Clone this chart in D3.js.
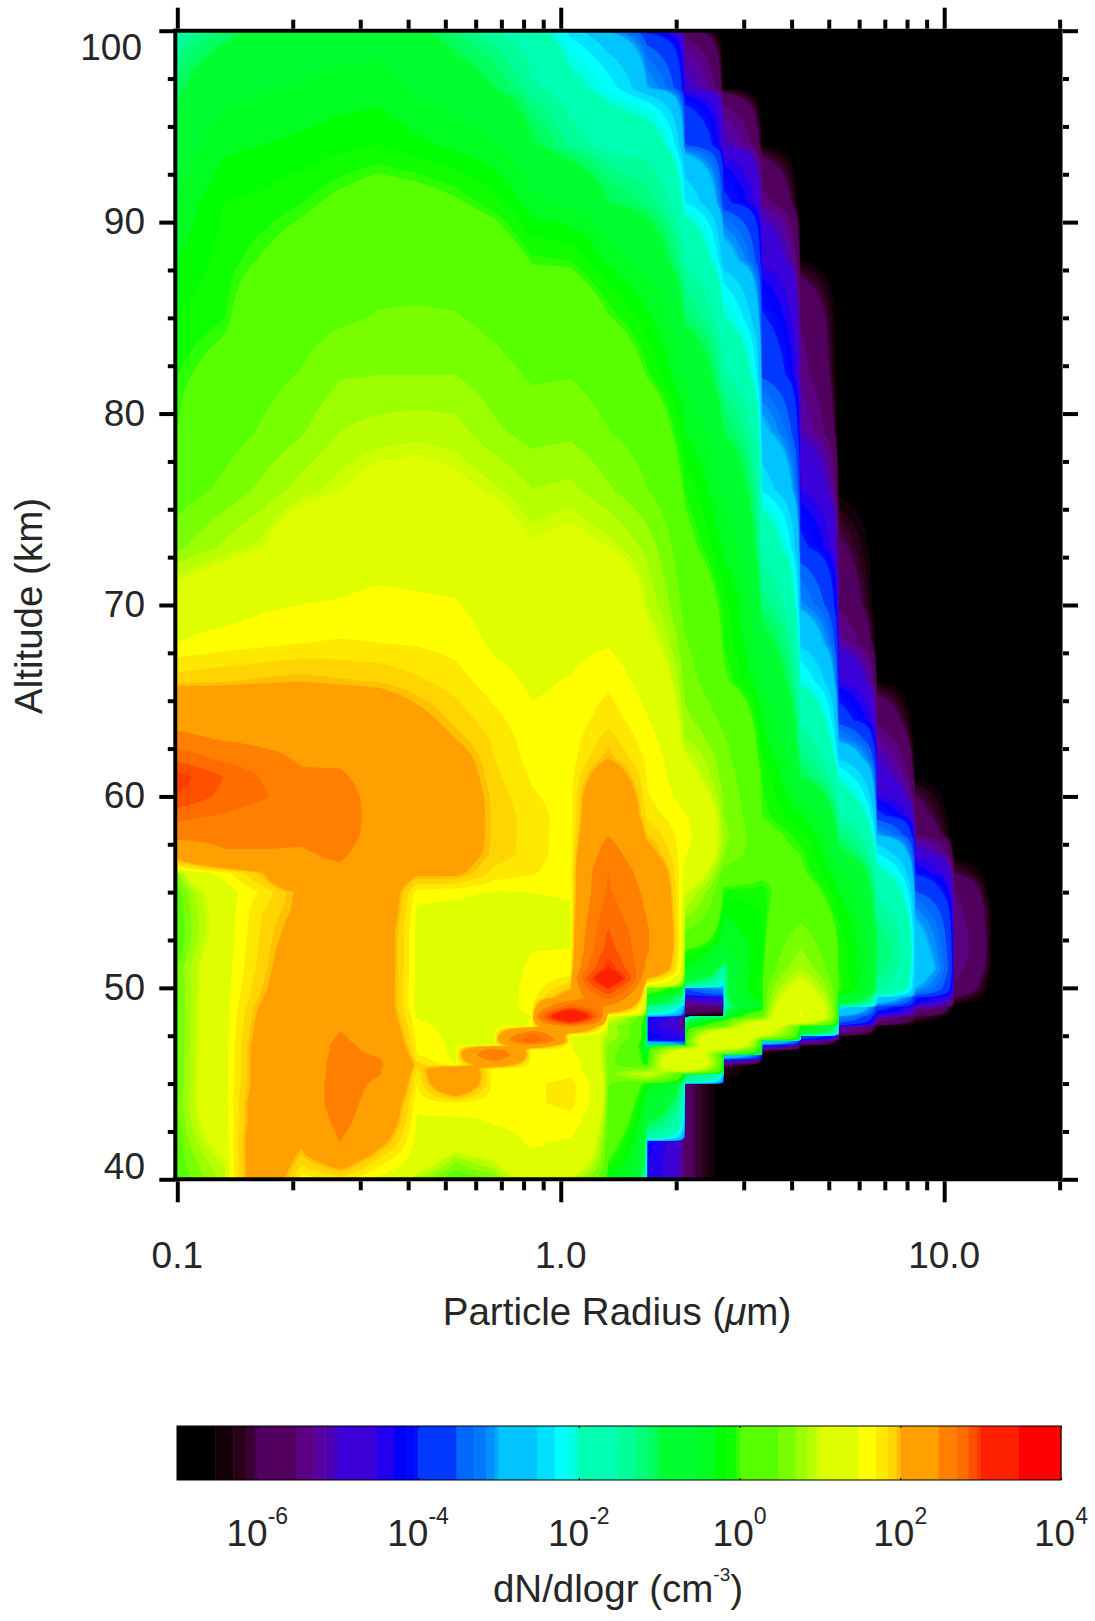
<!DOCTYPE html>
<html>
<head>
<meta charset="utf-8">
<script src="https://cdn.jsdelivr.net/npm/d3@7"></script>
<style>
	html, body { margin: 0; padding: 0; background: #fff; }
	text { font-family: "Liberation Sans", sans-serif; fill: #262626; }
</style>
</head>
<body>
<svg id="chart" width="1095" height="1621"></svg>
<script>
// particle radius (um) of the grid columns
const radii = [0.1, 0.133, 0.168, 0.211, 0.266, 0.335, 0.422, 0.531, 0.668, 0.841, 1.06, 1.33, 1.68, 2.11, 2.66, 3.35, 4.22, 5.31, 6.68, 8.41, 10.6, 13.3, 16.8, 20];

// altitude (km) of the grid rows, top to bottom
const altitudes = [100, 97, 94, 91, 88, 85, 82, 79, 76, 73, 70, 68, 66, 64, 63, 62, 61, 60, 59, 58, 57, 56, 55, 54, 53, 52, 51, 50.5, 50, 49.5, 49, 48.5, 48, 47.5, 47.25, 47, 46.75, 46.5, 46.25, 46, 45.75, 45.5, 45, 44, 43, 42, 41, 40];

// log10(dN/dlogr), one row per altitude, one value per radius. -9 means nothing there
const logN = [
	[-1.6,-1.15,-.9,-.8,-.75,-.7,-.95,-1.2,-1.5,-1.9,-2.4,-3.05,-4.2,-5.8,-9,-9,-9,-9,-9,-9,-9,-9,-9,-9],
	[-1.1,-.7,-.55,-.5,-.42,-.4,-.6,-.8,-1,-1.45,-1.9,-2.2,-3,-4.9,-6.7,-9,-9,-9,-9,-9,-9,-9,-9,-9],
	[-.8,-.35,-.3,-.25,-.2,-.15,-.25,-.35,-.5,-.95,-1.35,-1.7,-1.75,-3.5,-5,-6.5,-9,-9,-9,-9,-9,-9,-9,-9],
	[-.5,-.15,-.12,-.05,.05,.12,.1,.03,-.1,-.45,-.6,-1,-1.2,-2.3,-3.9,-5.4,-9,-9,-9,-9,-9,-9,-9,-9],
	[-.3,-.1,.02,.12,.2,.3,.3,.25,.2,-.02,-.05,-.35,-.7,-1.6,-2.8,-4.6,-6.6,-9,-9,-9,-9,-9,-9,-9],
	[-.15,-.05,.2,.3,.42,.5,.52,.5,.38,.22,.25,.02,-.25,-1.1,-2,-3.95,-5.55,-9,-9,-9,-9,-9,-9,-9],
	[-.05,.1,.35,.5,.68,.7,.7,.7,.58,.44,.46,.3,-.02,-.6,-1.5,-3.6,-5.4,-9,-9,-9,-9,-9,-9,-9],
	[0,.3,.52,.68,.85,.9,.92,.9,.74,.62,.66,.49,.3,-.3,-1,-2.9,-5.1,-9,-9,-9,-9,-9,-9,-9],
	[.25,.55,.75,.9,1,1.08,1.1,1.05,.98,.85,.88,.73,.48,-.05,-.6,-2.35,-4.5,-6.8,-9,-9,-9,-9,-9,-9],
	[.65,.88,1,1.2,1.25,1.3,1.3,1.25,1.15,1.02,1.08,1,.8,.1,-.35,-1.7,-3.9,-5.9,-9,-9,-9,-9,-9,-9],
	[1.15,1.25,1.42,1.48,1.5,1.55,1.52,1.5,1.32,1.2,1.22,1.35,.95,.35,-.1,-1.2,-3.1,-5.6,-9,-9,-9,-9,-9,-9],
	[1.48,1.6,1.65,1.7,1.72,1.7,1.68,1.62,1.42,1.35,1.36,1.45,1.1,.5,-.05,-.85,-2.6,-5.2,-9,-9,-9,-9,-9,-9],
	[1.92,1.95,1.98,2,1.97,1.95,1.87,1.78,1.58,1.42,1.5,1.65,1.3,.6,.05,-.6,-2.1,-4.5,-6.6,-9,-9,-9,-9,-9],
	[2.35,2.3,2.3,2.3,2.25,2.2,2.07,1.92,1.76,1.53,1.55,1.8,1.5,.75,.4,-.3,-1.6,-3.8,-5.6,-9,-9,-9,-9,-9],
	[2.55,2.45,2.4,2.4,2.35,2.25,2.15,2,1.82,1.58,1.58,1.9,1.58,.85,.5,-.25,-1.4,-3.1,-5.3,-9,-9,-9,-9,-9],
	[2.8,2.65,2.55,2.44,2.42,2.3,2.2,2.1,1.85,1.62,1.6,2,1.65,1.02,.55,-.15,-1.2,-2.6,-5,-8,-9,-9,-9,-9],
	[3,2.84,2.68,2.52,2.52,2.3,2.2,2.15,1.88,1.68,1.6,2.2,1.68,1.12,.6,-.05,-1,-2.1,-4.8,-6.8,-9,-9,-9,-9],
	[2.95,2.8,2.72,2.55,2.6,2.32,2.2,2.18,1.92,1.72,1.6,2.35,1.72,1.3,.65,-.02,-.6,-1.8,-4.5,-6,-9,-9,-9,-9],
	[2.75,2.68,2.6,2.55,2.62,2.32,2.2,2.18,1.93,1.78,1.58,2.4,1.8,1.5,.7,0,-.3,-1.5,-3.9,-5.8,-9,-9,-9,-9],
	[2.55,2.55,2.55,2.52,2.6,2.32,2.2,2.18,1.93,1.78,1.57,2.47,1.95,1.55,.75,.1,-.1,-1.2,-3.05,-5.55,-9,-9,-9,-9],
	[2.15,2.45,2.45,2.45,2.52,2.28,2.2,2.15,1.92,1.78,1.56,2.6,2.1,1.5,.7,.1,0,-.9,-2.3,-4.8,-7,-9,-9,-9],
	[.6,1.6,2,2.4,2.42,2.25,2.05,2.05,1.8,1.72,1.55,2.7,2.3,1.3,.2,.05,.05,-.5,-1.9,-4.1,-6,-9,-9,-9],
	[.3,1.2,1.75,2.05,2.3,2.25,1.6,1.55,1.45,1.48,1.5,2.72,2.4,1,-.1,-.1,.2,-.3,-1.6,-3.5,-5.5,-9,-9,-9],
	[.2,1.15,1.85,2.05,2.25,2.25,1.4,1.35,1.35,1.4,1.45,2.78,2.45,.8,-.3,-.15,.35,-.2,-1.4,-3.1,-5.4,-6.6,-9,-9],
	[-.05,1.15,1.88,2.1,2.3,2.2,1.35,1.3,1.3,1.35,1.45,2.85,2.5,.5,-.4,-.2,.55,-.1,-1.2,-2.9,-5.35,-6.55,-9,-9],
	[.1,1.2,1.9,2.15,2.3,2.2,1.35,1.3,1.28,1.47,1.48,2.9,2.5,0,-.6,-.2,.7,-.05,-1.1,-2.8,-5.3,-6.55,-9,-9],
	[.5,1.25,1.92,2.2,2.3,2.2,1.35,1.3,1.28,1.52,1.55,3.02,2.4,-.35,-1.7,-.15,.85,-.05,-1.2,-2.7,-5.4,-6.6,-9,-9],
	[.45,1.25,1.95,2.2,2.32,2.2,1.32,1.3,1.28,1.53,1.75,3.2,2,-.8,-2,-.12,1,-.02,-1.3,-2.85,-5.5,-7,-9,-9],
	[.4,1.25,1.97,2.2,2.35,2.2,1.3,1.3,1.28,1.55,1.95,3,.3,-3.5,-3,-.1,1.15,0,-1.4,-3,-5.6,-7.5,-9,-9],
	[.4,1.27,2,2.2,2.38,2.2,1.3,1.3,1.28,1.55,2.15,2.75,-.5,-5,-4.6,-.2,1.3,-.5,-2.6,-4,-6,-9,-9,-9],
	[.4,1.27,2.05,2.2,2.4,2.2,1.3,1.3,1.28,1.55,2.8,2.4,-1.5,-5.6,-5.8,-.5,1.45,-2.4,-3.8,-5.2,-7,-9,-9,-9],
	[.4,1.27,2.08,2.2,2.42,2.22,1.45,1.3,1.3,1.48,3.3,1.1,-4.2,-6.5,-7,.3,1.5,-3.1,-5.2,-6,-9,-9,-9,-9],
	[.4,1.27,2.1,2.2,2.45,2.25,1.55,1.35,1.32,1.5,2.5,.8,-4.4,-6,.3,1.3,-.2,-5,-6.4,-9,-9,-9,-9,-9],
	[.4,1.28,2.12,2.2,2.5,2.3,1.6,1.38,1.36,2.75,1.3,.85,-4.2,-4.6,1.35,1,-3.5,-6.2,-9,-9,-9,-9,-9,-9],
	[.4,1.28,2.13,2.2,2.52,2.32,1.62,1.39,1.38,2.85,1.45,.75,-4.3,-4.4,1.5,-2.4,-5,-9,-9,-9,-9,-9,-9,-9],
	[.4,1.28,2.15,2.2,2.55,2.35,1.65,1.4,1.4,2.3,1.5,.6,-2.5,-3,1.4,-4.5,-6.2,-9,-9,-9,-9,-9,-9,-9],
	[.4,1.28,2.15,2.2,2.55,2.4,1.68,1.4,2.6,1.5,1.5,.6,-.6,1.1,.9,-6,-9,-9,-9,-9,-9,-9,-9,-9],
	[.4,1.3,2.15,2.2,2.56,2.45,1.7,1.4,2.72,1.55,1.55,.55,-.4,1.3,-2.5,-6.8,-9,-9,-9,-9,-9,-9,-9,-9],
	[.4,1.3,2.15,2.2,2.57,2.5,1.8,1.42,2.55,1.55,1.58,.55,-.3,1.4,-4.6,-9,-9,-9,-9,-9,-9,-9,-9,-9],
	[.4,1.3,2.15,2.2,2.58,2.52,1.9,1.45,2.25,1.55,1.6,.55,-.2,1.4,-5.9,-9,-9,-9,-9,-9,-9,-9,-9,-9],
	[.4,1.3,2.15,2.2,2.58,2.5,1.85,2.3,1.6,1.55,1.6,.58,.6,1.2,-6.2,-9,-9,-9,-9,-9,-9,-9,-9,-9],
	[.4,1.3,2.15,2.2,2.58,2.5,1.75,2.35,1.58,1.55,1.65,.6,1,-1,-6.3,-9,-9,-9,-9,-9,-9,-9,-9,-9],
	[.4,1.3,2.15,2.2,2.6,2.42,1.7,2.3,1.6,1.66,1.76,.5,-.2,-5.9,-9,-9,-9,-9,-9,-9,-9,-9,-9,-9],
	[.5,1.3,2.2,2.2,2.6,2.3,1.55,1.7,1.55,1.66,1.76,.4,-.6,-5.9,-9,-9,-9,-9,-9,-9,-9,-9,-9,-9],
	[.4,1.25,2.2,2.15,2.55,2.25,1.42,1.35,1.5,1.55,1.6,.3,-1,-5.9,-9,-9,-9,-9,-9,-9,-9,-9,-9,-9],
	[.3,1.15,2.25,2.05,2.48,2.1,1.35,1.2,1.3,1.52,1.45,.15,-4.2,-5.9,-9,-9,-9,-9,-9,-9,-9,-9,-9,-9],
	[.2,1,2.25,1.9,2.15,1.8,1.2,.75,1,1.4,1.3,0,-4.3,-5.9,-9,-9,-9,-9,-9,-9,-9,-9,-9,-9],
	[0,.9,2.25,1.6,1.75,1.35,.8,-.1,.5,1.1,.9,-.3,-4.3,-5.9,-9,-9,-9,-9,-9,-9,-9,-9,-9,-9]
];

// contour levels are mantissa * 10^decade
const levelDecades = [-7, -6, -5, -4, -3, -2, -1, 0, 1, 2, 3];
const levelMantissas = [1, 3, 5, 7, 9];

// one colour per level
const bandColors = [
	"#000000", "#140008", "#280018", "#38002c", "#45004c",
	"#520060", "#5a0080", "#5800a0", "#4c00b0", "#4800c0",
	"#3c00d8", "#2400f0", "#0000ff", "#0008ff", "#0010ff",
	"#0038ff", "#0068ff", "#0078ff", "#0090ff", "#00a8ff",
	"#00c4ff", "#00e0ff", "#00ffff", "#00ffe8", "#00ffd0",
	"#00ffb0", "#00ff98", "#00ff7c", "#00ff60", "#00ff50",
	"#00ff30", "#00ff20", "#00ff00", "#10ff00", "#2cff00",
	"#58ff00", "#78ff00", "#9cff00", "#b8ff00", "#ccff00",
	"#dfff00", "#ffff00", "#ffe800", "#ffd400", "#ffc000",
	"#ffa000", "#ff8000", "#ff6c00", "#ff5000", "#ff3c00",
	"#ff2000", "#ff0000", "#ff0000", "#ff0000", "#ff0000"
];

const xMajorTicks = [0.1, 1, 10];
const xMinorTicks = [0.2, 0.3, 0.4, 0.5, 0.6, 0.7, 0.8, 0.9, 2, 3, 4, 5, 6, 7, 8, 9, 20];
const xTickLabels = ["0.1", "1.0", "10.0"];
const yMajorTicks = [40, 50, 60, 70, 80, 90, 100];
const yMinorTicks = [42.5, 45, 47.5, 52.5, 55, 57.5, 62.5, 65, 67.5, 72.5, 75, 77.5, 82.5, 85, 87.5, 92.5, 95, 97.5];
const colorBarTicks = [1e-6, 1e-4, 1e-2, 1, 1e2, 1e4];
const colorBarExponents = ["-6", "-4", "-2", "0", "2", "4"];

const levels = levelDecades.flatMap(d => levelMantissas.map(m => m * Math.pow(10, d)));

const plot = { left: 177.3, right: 1062, top: 30.7, bottom: 1179.3 };
const bar = { left: 177, right: 1061, top: 1426, bottom: 1480 };

const svg = d3.select("#chart");

const xScale = d3.scaleLog()
	.domain([0.1, 10])
	.range([plot.left, 944.2]);

const yScale = d3.scaleLinear()
	.domain([40, 100])
	.range([plot.bottom, plot.top]);

const colorBarScale = d3.scaleLog()
	.domain([1e-7, 1e4])
	.range([bar.left, bar.right]);

// The contours follow straight-line changes of dN/dlogr itself (not its log) between
// grid points, so the bands pile up at the low side of each step. Each grid cell is
// split up so that those curved edges come out smooth.
const splitX = 8;
const splitY = 8;
const nCols = radii.length;
const nRows = altitudes.length;
const gridW = (nCols - 1) * splitX + 1;
const gridH = (nRows - 1) * splitY + 1;
const grid = new Float64Array(gridW * gridH);

for (let j = 0; j < gridH; j++) {
	const r0 = Math.min(Math.floor(j / splitY), nRows - 2);
	const tr = j / splitY - r0;
	for (let i = 0; i < gridW; i++) {
		const c0 = Math.min(Math.floor(i / splitX), nCols - 2);
		const tc = i / splitX - c0;
		const top = Math.pow(10, logN[r0][c0]) * (1 - tc) + Math.pow(10, logN[r0][c0 + 1]) * tc;
		const bottom = Math.pow(10, logN[r0 + 1][c0]) * (1 - tc) + Math.pow(10, logN[r0 + 1][c0 + 1]) * tc;
		grid[j * gridW + i] = top * (1 - tr) + bottom * tr;
	}
}

const colToPx = d3.scaleLinear()
	.domain(d3.range(nCols))
	.range(radii.map(d => xScale(d)))
	.clamp(true);

const rowToPx = d3.scaleLinear()
	.domain(d3.range(nRows))
	.range(altitudes.map(d => yScale(d)))
	.clamp(true);

const gridPath = d3.geoPath(d3.geoTransform({
	point: function(x, y) {
		this.stream.point(colToPx((x - 0.5) / splitX), rowToPx((y - 0.5) / splitY));
	}
}));

const contours = d3.contours()
	.size([gridW, gridH])
	.smooth(true)
	.thresholds(levels.slice(1));

svg.append("clipPath")
	.attr("id", "plot-clip")
	.append("rect")
	.attr("x", plot.left)
	.attr("y", plot.top)
	.attr("width", plot.right - plot.left)
	.attr("height", plot.bottom - plot.top);

const field = svg.append("g").attr("clip-path", "url(#plot-clip)");

field.append("rect")
	.attr("x", plot.left)
	.attr("y", plot.top)
	.attr("width", plot.right - plot.left)
	.attr("height", plot.bottom - plot.top)
	.attr("fill", bandColors[0]);

field.selectAll("path")
	.data(contours(grid))
	.join("path")
	.attr("d", gridPath)
	.attr("fill", (d, i) => bandColors[i + 1]);

// axes: thick black ticks on all four sides
function drawAxis(axis, tx, ty, values, size, width) {
	const g = svg.append("g")
		.attr("transform", `translate(${tx},${ty})`)
		.call(axis.tickValues(values).tickSize(size).tickSizeOuter(0).tickFormat(""));
	g.selectAll(".tick line").attr("stroke", "#000").attr("stroke-width", width);
	g.select(".domain").remove();
	return g;
}

drawAxis(d3.axisLeft(yScale), plot.left - 2, 0, yMinorTicks, 7.5, 4);
drawAxis(d3.axisLeft(yScale), plot.left - 2, 0, yMajorTicks, 16, 4);
drawAxis(d3.axisRight(yScale), plot.right, 0, yMinorTicks, 7, 4);
drawAxis(d3.axisRight(yScale), plot.right, 0, yMajorTicks, 16, 4);
drawAxis(d3.axisTop(xScale), 0, plot.top - 2, xMinorTicks, 9, 4);
drawAxis(d3.axisTop(xScale), 0, plot.top - 2, xMajorTicks, 21, 4);
drawAxis(d3.axisBottom(xScale), 0, plot.bottom + 2, xMinorTicks, 9, 4);
drawAxis(d3.axisBottom(xScale), 0, plot.bottom + 2, xMajorTicks, 21, 4);

// frame lines
svg.append("line").attr("x1", plot.left - 2).attr("x2", plot.left - 2).attr("y1", plot.top - 2).attr("y2", plot.bottom + 2)
	.attr("stroke", "#000").attr("stroke-width", 4);
svg.append("line").attr("x1", plot.left - 4).attr("x2", plot.right).attr("y1", plot.top).attr("y2", plot.top)
	.attr("stroke", "#000").attr("stroke-width", 4);
svg.append("line").attr("x1", plot.left - 4).attr("x2", plot.right).attr("y1", plot.bottom).attr("y2", plot.bottom)
	.attr("stroke", "#000").attr("stroke-width", 4);
svg.append("line").attr("x1", plot.right + 0.5).attr("x2", plot.right + 0.5).attr("y1", plot.top).attr("y2", plot.bottom)
	.attr("stroke", "#777").attr("stroke-width", 1);

// tick labels
const labelSize = 37;
const titleSize = 38.5;

svg.selectAll(".y-label")
	.data(yMajorTicks)
	.join("text")
	.attr("class", "y-label")
	.attr("x", d => d === 100 ? 142 : 145)
	.attr("y", d => yScale(d) + (d === 100 ? 29 : d === 40 ? 0 : 12))
	.attr("text-anchor", "end")
	.style("font-size", labelSize + "px")
	.text(d => d);

svg.selectAll(".x-label")
	.data(xMajorTicks)
	.join("text")
	.attr("class", "x-label")
	.attr("x", d => xScale(d))
	.attr("y", 1268)
	.attr("text-anchor", "middle")
	.style("font-size", labelSize + "px")
	.text((d, i) => xTickLabels[i]);

// axis titles
const xTitle = svg.append("text")
	.attr("x", 617)
	.attr("y", 1325)
	.attr("text-anchor", "middle")
	.style("font-size", titleSize + "px");
xTitle.append("tspan").text("Particle Radius (");
xTitle.append("tspan").style("font-style", "italic").text("\u03bc");
xTitle.append("tspan").text("m)");

svg.append("text")
	.attr("transform", "translate(42,606) rotate(-90)")
	.attr("text-anchor", "middle")
	.style("font-size", titleSize + "px")
	.text("Altitude (km)");

// colour bar
const barEdges = levels.concat([1e4 * 1.0001]);
svg.selectAll(".bar-band")
	.data(levels.filter(d => d < 1e4))
	.join("rect")
	.attr("class", "bar-band")
	.attr("x", d => colorBarScale(d))
	.attr("y", bar.top)
	.attr("width", (d, i) => Math.min(colorBarScale(barEdges[i + 1]), bar.right) - colorBarScale(d) + 0.5)
	.attr("height", bar.bottom - bar.top)
	.attr("fill", (d, i) => bandColors[i]);

svg.append("rect")
	.attr("x", bar.left)
	.attr("y", bar.top)
	.attr("width", bar.right - bar.left)
	.attr("height", bar.bottom - bar.top)
	.attr("fill", "none")
	.attr("stroke", "#000")
	.attr("stroke-width", 1);

const barAxisBottom = svg.append("g")
	.attr("transform", `translate(0,${bar.bottom})`)
	.call(d3.axisTop(colorBarScale).tickValues(colorBarTicks).tickSize(2).tickSizeOuter(0).tickFormat(""));
barAxisBottom.select(".domain").remove();
const barAxisTop = svg.append("g")
	.attr("transform", `translate(0,${bar.top})`)
	.call(d3.axisBottom(colorBarScale).tickValues(colorBarTicks).tickSize(2).tickSizeOuter(0).tickFormat(""));
barAxisTop.select(".domain").remove();

const barLabels = svg.selectAll(".bar-label")
	.data(colorBarTicks)
	.join("text")
	.attr("class", "bar-label")
	.attr("x", d => colorBarScale(d))
	.attr("y", 1546)
	.attr("text-anchor", "middle")
	.style("font-size", labelSize + "px");
barLabels.append("tspan").text("10");
barLabels.append("tspan")
	.attr("dy", -22)
	.style("font-size", "23px")
	.text((d, i) => colorBarExponents[i]);

const barTitle = svg.append("text")
	.attr("x", 618)
	.attr("y", 1602)
	.attr("text-anchor", "middle")
	.style("font-size", titleSize + "px");
barTitle.append("tspan").text("dN/dlogr (cm");
barTitle.append("tspan").attr("dy", -21).style("font-size", "19px").text("-3");
barTitle.append("tspan").attr("dy", 21).text(")");
</script>
</body>
</html>
